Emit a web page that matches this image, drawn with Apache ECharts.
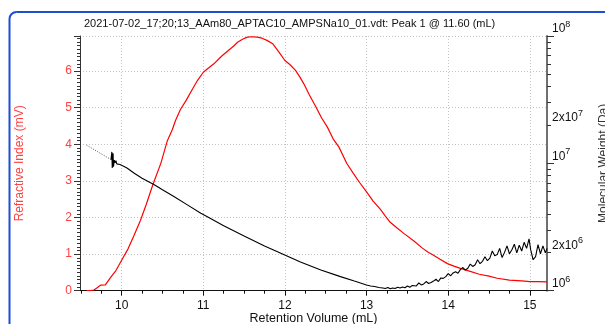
<!DOCTYPE html>
<html><head><meta charset="utf-8">
<script src="https://cdn.jsdelivr.net/npm/echarts@6/dist/echarts.min.js"></script>
<style>html,body{margin:0;padding:0;background:#fff}#c{width:605px;height:324px}</style>
</head><body><div id="c"></div>
<script>
const titleText = '2021-07-02_17;20;13_AAm80_APTAC10_AMPSNa10_01.vdt: Peak 1 @ 11.60 (mL)';

// Refractive index trace (mV) vs retention volume (mL)
const riVolume = [9.57,9.62,9.66,9.70,9.74,9.80,9.87,9.93,10.00,10.08,10.15,10.23,10.30,10.38,10.48,10.56,10.62,10.66,10.72,10.79,10.87,10.93,11.00,11.06,11.13,11.22,11.31,11.37,11.42,11.48,11.54,11.60,11.66,11.72,11.78,11.85,11.90,11.94,12.00,12.06,12.13,12.18,12.23,12.30,12.38,12.45,12.52,12.59,12.66,12.76,12.84,12.91,13.00,13.08,13.17,13.23,13.29,13.37,13.46,13.58,13.68,13.75,13.82,13.90,13.99,14.07,14.15,14.25,14.38,14.50,14.60,14.75,14.90,15.00,15.10,15.21];
const riSignal = [0.00,0.00,0.02,0.08,0.15,0.16,0.38,0.55,0.83,1.15,1.50,1.92,2.35,2.88,3.48,4.10,4.40,4.65,4.95,5.20,5.52,5.75,5.97,6.08,6.20,6.40,6.57,6.68,6.79,6.87,6.93,6.94,6.93,6.90,6.84,6.75,6.60,6.48,6.29,6.18,6.02,5.85,5.66,5.35,5.02,4.72,4.47,4.15,3.93,3.47,3.20,2.97,2.70,2.45,2.22,2.04,1.87,1.72,1.56,1.36,1.17,1.06,0.97,0.86,0.74,0.67,0.61,0.54,0.45,0.40,0.34,0.29,0.27,0.25,0.25,0.24];

// Molecular weight (x 10^6 Da): extrapolated (dotted) part and measured part
const mwDotVolume = [9.57, 9.87];
const mwDotValue = [13.9, 10.7];
const mwVolume = [9.87,9.88,9.885,9.895,9.90,9.91,9.92,9.93,9.94,9.96,9.98,10.00,10.03,10.07,10.15,10.25,10.40,10.50,10.64,10.81,10.97,11.05,11.25,11.50,11.75,11.95,12.19,12.44,12.68,12.85,13.00,13.05,13.10,13.15,13.20,13.23,13.26,13.29,13.32,13.35,13.38,13.41,13.44,13.47,13.50,13.53,13.56,13.58,13.61,13.64,13.67,13.70,13.73,13.76,13.79,13.82,13.85,13.88,13.91,13.94,13.97,14.00,14.03,14.06,14.09,14.12,14.15,14.18,14.21,14.24,14.27,14.30,14.33,14.36,14.39,14.42,14.45,14.48,14.51,14.54,14.57,14.60,14.63,14.66,14.69,14.72,14.75,14.78,14.81,14.84,14.87,14.90,14.93,14.96,14.99,15.01,15.04,15.07,15.10,15.13,15.16,15.19,15.21];
const mwValue = [10.7,12.3,9.2,12.0,9.4,10.6,10.1,10.5,9.9,10.2,9.8,9.5,9.45,9.15,8.4,7.65,6.8,6.2,5.5,4.7,4.06,3.81,3.24,2.69,2.24,1.97,1.68,1.455,1.29,1.19,1.11,1.09,1.08,1.06,1.05,1.04,1.06,1.035,1.05,1.04,1.065,1.05,1.07,1.055,1.09,1.065,1.10,1.12,1.09,1.15,1.11,1.13,1.18,1.14,1.16,1.19,1.23,1.18,1.26,1.25,1.29,1.36,1.31,1.38,1.41,1.37,1.47,1.52,1.45,1.50,1.62,1.55,1.60,1.75,1.63,1.70,1.85,1.72,1.80,2.05,1.88,1.92,2.15,1.82,2.00,2.25,1.95,2.10,2.32,1.98,2.28,2.05,2.40,2.15,2.55,2.10,1.75,1.85,2.30,1.95,2.25,1.98,2.15];

const xTickValues = [10, 11, 12, 13, 14, 15];
const rightMajorValues = [1, 10, 100];
const rightMinorValues = [2,3,4,5,6,7,8,9,20,30,40,50,60,70,80,90];
const rightLabelValues = [1, 2, 10, 20, 100];
const rightLabelText = {1: '{b|10}{s|6}', 2: '{b|2x10}{s|6}', 10: '{b|10}{s|7}', 20: '{b|2x10}{s|7}', 100: '{b|10}{s|8}'};

const FONT = 'Arial, "Liberation Sans", sans-serif';
const zip = (a, b) => a.map((v, i) => [v, b[i]]);

const chart = echarts.init(document.getElementById('c'), null, {renderer: 'canvas'});
const rightAxisBase = {
  type: 'log', logBase: 10, min: 1, max: 100, position: 'right',
  splitLine: {show: false}
};
chart.setOption({
  animation: false,
  backgroundColor: '#fff',
  textStyle: {fontFamily: FONT},
  title: {
    text: titleText, left: 84, top: 18, padding: 0,
    textStyle: {fontSize: 11, fontWeight: 'normal', color: '#111', fontFamily: FONT}
  },
  graphic: [{
    type: 'rect', silent: true, z: -10,
    shape: {x: 9.5, y: 12, width: 900, height: 700, r: 7},
    style: {fill: 'none', stroke: '#1d4fd6', lineWidth: 2}
  }],
  grid: {left: 80, right: 58, top: 36, bottom: 33.3, containLabel: false, outerBoundsMode: 'none'},
  xAxis: {
    type: 'value', min: 9.49, max: 15.21,
    name: 'Retention Volume (mL)', nameLocation: 'middle', nameGap: 21, nameMoveOverlap: false,
    nameTextStyle: {fontSize: 12.5, color: '#111', fontFamily: FONT},
    axisLine: {show: true, lineStyle: {color: '#111', width: 1}},
    axisTick: {show: true, customValues: xTickValues, length: 5, lineStyle: {color: '#111'}},
    minorTick: {show: true, splitNumber: 4, length: 3, lineStyle: {color: '#111'}},
    axisLabel: {customValues: xTickValues, fontSize: 12, color: '#111', margin: 9, fontFamily: FONT},
    splitLine: {show: true, lineStyle: {color: '#c4c4c4', type: [1, 2], width: 1}}
  },
  yAxis: [{
    type: 'value', min: 0, max: 6.96, interval: 1, position: 'left',
    name: 'Refractive Index (mV)', nameLocation: 'middle', nameGap: 54, nameMoveOverlap: false,
    nameTextStyle: {fontSize: 12, color: '#ff4040', fontFamily: FONT},
    axisLine: {show: true, lineStyle: {color: '#333', width: 1}},
    axisTick: {show: true, length: 6, lineStyle: {color: '#333'}},
    minorTick: {show: true, splitNumber: 10, length: 3, lineStyle: {color: '#333'}},
    axisLabel: {fontSize: 12, color: '#ff4040', margin: 8, showMaxLabel: false, fontFamily: FONT, padding: [0, 0, 6, 0]},
    splitLine: {show: true, lineStyle: {color: '#c4c4c4', type: [1, 2], width: 1}}
  }, Object.assign({}, rightAxisBase, {
    name: 'Molecular Weight (Da)', nameLocation: 'middle', nameGap: 51, nameMoveOverlap: false,
    nameTextStyle: {fontSize: 12, color: '#333', fontFamily: FONT},
    axisLine: {show: true, lineStyle: {color: '#707070', width: 2}},
    axisTick: {show: true, customValues: rightMajorValues, length: 7, lineStyle: {color: '#333'}},
    axisLabel: {
      customValues: rightLabelValues, margin: 5, verticalAlign: 'middle', padding: [0, 0, 14, 0],
      formatter: v => rightLabelText[Math.round(v)] || '',
      rich: {
        b: {fontSize: 12, color: '#111', fontFamily: FONT},
        s: {fontSize: 9, color: '#111', fontFamily: FONT, padding: [0, 0, 9, 0]}
      }
    }
  }), Object.assign({}, rightAxisBase, {
    axisLine: {show: false},
    axisTick: {show: true, customValues: rightMinorValues, length: 4, lineStyle: {color: '#333'}},
    axisLabel: {show: false}
  })],
  series: [{
    type: 'line', name: 'RI', xAxisIndex: 0, yAxisIndex: 0,
    data: zip(riVolume, riSignal), symbol: 'none', z: 3,
    lineStyle: {color: '#ff0000', width: 1.2}
  }, {
    type: 'line', name: 'MW extrapolated', xAxisIndex: 0, yAxisIndex: 1,
    data: zip(mwDotVolume, mwDotValue), symbol: 'none', z: 2,
    lineStyle: {color: '#555', width: 1, type: [1, 1.5]}
  }, {
    type: 'line', name: 'MW', xAxisIndex: 0, yAxisIndex: 1,
    data: zip(mwVolume, mwValue), symbol: 'none', z: 4,
    lineStyle: {color: '#000', width: 1.1}
  }]
});
</script></body></html>
